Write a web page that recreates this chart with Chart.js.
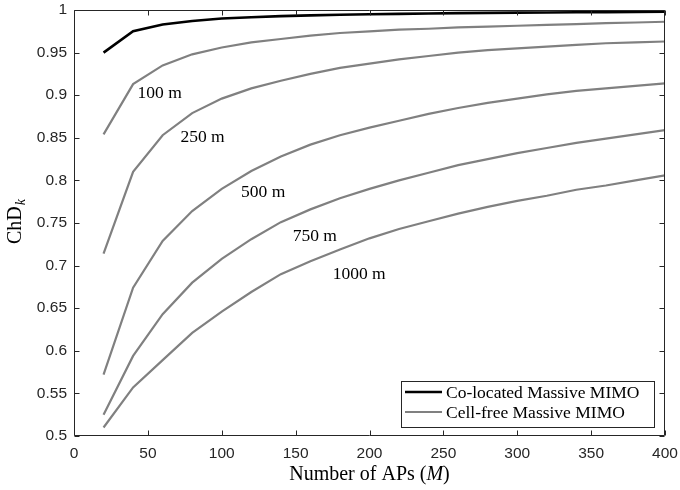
<!DOCTYPE html>
<html>
<head>
<meta charset="utf-8">
<script src="https://cdn.jsdelivr.net/npm/chart.js@4/dist/chart.umd.min.js"></script>
<style>
html,body{margin:0;padding:0;background:#fff;}
#wrap{width:680px;height:490px;position:relative;}
</style>
</head>
<body>
<div id="wrap"><canvas id="c" width="680" height="490"></canvas></div>
<script>
// ---- data ----
const numAPs = [20,40,60,80,100,120,140,160,180,200,220,240,260,280,300,320,340,360,380,400];
const colocated = [0.950,0.975,0.983,0.987,0.990,0.9915,0.9928,0.9937,0.9944,0.9950,0.9955,0.9959,0.9963,0.9966,0.9969,0.9971,0.9973,0.9975,0.9977,0.9979];
const cf100  = [0.854,0.913,0.935,0.948,0.956,0.962,0.966,0.970,0.973,0.975,0.977,0.978,0.9795,0.9805,0.9815,0.9825,0.9835,0.9845,0.9853,0.9862];
const cf250  = [0.714,0.810,0.853,0.879,0.896,0.908,0.917,0.925,0.932,0.937,0.942,0.946,0.950,0.953,0.955,0.957,0.959,0.961,0.962,0.963];
const cf500  = [0.572,0.674,0.729,0.764,0.790,0.811,0.828,0.842,0.853,0.862,0.870,0.878,0.885,0.891,0.896,0.901,0.905,0.908,0.911,0.914];
const cf750  = [0.525,0.594,0.643,0.680,0.708,0.731,0.751,0.766,0.779,0.790,0.800,0.809,0.818,0.825,0.832,0.838,0.844,0.849,0.854,0.859];
const cf1000 = [0.510,0.557,0.589,0.621,0.646,0.669,0.690,0.705,0.719,0.732,0.743,0.752,0.761,0.769,0.776,0.782,0.789,0.794,0.800,0.806];
const xTicks = [0,50,100,150,200,250,300,350,400];
const yTicks = [0.5,0.55,0.6,0.65,0.7,0.75,0.8,0.85,0.9,0.95,1];
const yTickLabels = ['0.5','0.55','0.6','0.65','0.7','0.75','0.8','0.85','0.9','0.95','1'];
const curveLabels = ['100 m','250 m','500 m','750 m','1000 m'];
const curveLabelAtM = [58,87,128,163,193];
const curveLabelAtChD = [0.902,0.850,0.786,0.734,0.690];
const legendNames = ['Co-located Massive MIMO','Cell-free Massive MIMO'];

const BLACK = '#000000', GRAY = '#808080';
const SERIF = '"Liberation Serif", "DejaVu Serif", serif';
const pts = arr => numAPs.map((x,i)=>({x:x,y:arr[i]}));
const cfSeries = [cf100,cf250,cf500,cf750,cf1000];

const datasets = [
  {label:legendNames[0], data:pts(colocated), borderColor:BLACK, borderWidth:2.6, pointRadius:0, tension:0, fill:false}
].concat(cfSeries.map((s,i)=>({
  label: i===0 ? legendNames[1] : legendNames[1]+' '+curveLabels[i],
  data: pts(s), borderColor:GRAY, borderWidth:2.2, pointRadius:0, tension:0, fill:false
})));

const framePlugin = {
  id:'frame',
  afterDraw(chart){
    const ctx = chart.ctx, a = chart.chartArea;
    const xs = chart.scales.x, ys = chart.scales.y;
    ctx.save();
    // curve labels
    ctx.fillStyle = '#000';
    ctx.font = '17.5px ' + SERIF;
    ctx.textAlign = 'center'; ctx.textBaseline = 'middle';
    curveLabels.forEach((t,i)=>{
      ctx.fillText(t, xs.getPixelForValue(curveLabelAtM[i]), ys.getPixelForValue(curveLabelAtChD[i]));
    });
    // frame
    ctx.strokeStyle = '#262626'; ctx.lineWidth = 1;
    const L = Math.round(a.left)+0.5, R = Math.round(a.right)-0.5, T = Math.round(a.top)+0.5, B = Math.round(a.bottom)-0.5;
    ctx.beginPath(); ctx.rect(L,T,R-L,B-T); ctx.stroke();
    // inward ticks
    const tl = 5;
    ctx.beginPath();
    xTicks.forEach(v=>{
      const p = Math.round(xs.getPixelForValue(v))+0.5;
      ctx.moveTo(p,B); ctx.lineTo(p,B-tl);
      ctx.moveTo(p,T); ctx.lineTo(p,T+tl);
    });
    yTicks.forEach(v=>{
      const p = Math.round(ys.getPixelForValue(v))+0.5;
      ctx.moveTo(L,p); ctx.lineTo(L+tl,p);
      ctx.moveTo(R,p); ctx.lineTo(R-tl,p);
    });
    ctx.stroke();
    // legend
    const lx = 401.5, ly = 381.5, lw = 253, lh = 46;
    ctx.fillStyle = '#fff'; ctx.fillRect(lx,ly,lw,lh);
    ctx.strokeStyle = '#262626'; ctx.lineWidth = 1; ctx.strokeRect(lx,ly,lw,lh);
    ctx.font = '17.5px ' + SERIF;
    ctx.textAlign = 'left'; ctx.textBaseline = 'middle';
    [[BLACK,2.6,legendNames[0],392],[GRAY,2.2,legendNames[1],412]].forEach(r=>{
      ctx.strokeStyle = r[0]; ctx.lineWidth = r[1];
      ctx.beginPath(); ctx.moveTo(405,r[3]); ctx.lineTo(442,r[3]); ctx.stroke();
      ctx.fillStyle = '#000'; ctx.fillText(r[2], 446, r[3]+1);
    });
    // x title
    ctx.textBaseline = 'alphabetic';
    const f1 = '20px ' + SERIF;
    const f2 = 'italic 20px ' + SERIF;
    const parts = [['Number of APs (',f1],['M',f2],[')',f1]];
    let tw = 0; parts.forEach(p=>{ctx.font=p[1]; tw += ctx.measureText(p[0]).width;});
    let x0 = (a.left+a.right)/2 - tw/2;
    parts.forEach(p=>{ctx.font=p[1]; ctx.fillText(p[0], x0, 480); x0 += ctx.measureText(p[0]).width;});
    // y title
    ctx.translate(21, 222); ctx.rotate(-Math.PI/2);
    const fs = 'italic 14px ' + SERIF;
    ctx.font = f1; const w1 = ctx.measureText('ChD').width;
    ctx.font = fs; const w2 = ctx.measureText('k').width;
    let yx = -(w1+w2)/2;
    ctx.font = f1; ctx.fillText('ChD', yx, 0);
    ctx.font = fs; ctx.fillText('k', yx+w1+1, 4);
    ctx.restore();
  }
};

new Chart(document.getElementById('c'), {
  type:'line',
  data:{datasets:datasets},
  options:{
    responsive:false, animation:false, devicePixelRatio:1,
    layout:{padding:{top:10,right:15,left:0,bottom:0}},
    plugins:{legend:{display:false}, tooltip:{enabled:false}},
    scales:{
      x:{type:'linear', min:0, max:400,
         afterBuildTicks(s){ s.ticks = xTicks.map(v=>({value:v})); },
         afterFit(s){ s.height = 54; s.paddingLeft = 0; s.paddingRight = 0; },
         grid:{display:false, drawTicks:false}, border:{display:false},
         ticks:{padding:8, color:'#262626', font:{family:'"Liberation Sans", Arial, sans-serif', size:15.5}, maxRotation:0,
           callback:(v)=>String(v)}},
      y:{type:'linear', min:0.5, max:1,
         afterBuildTicks(s){ s.ticks = yTicks.map(v=>({value:v})); },
         afterFit(s){ s.width = 74; s.paddingTop = 0; s.paddingBottom = 0; },
         grid:{display:false, drawTicks:false}, border:{display:false},
         ticks:{padding:7, color:'#262626', font:{family:'"Liberation Sans", Arial, sans-serif', size:15.5},
           callback:(v)=>{ const i = yTicks.findIndex(t=>Math.abs(t-v)<1e-9); return i>=0 ? yTickLabels[i] : ''; }}}
    }
  },
  plugins:[framePlugin]
});
</script>
</body>
</html>
